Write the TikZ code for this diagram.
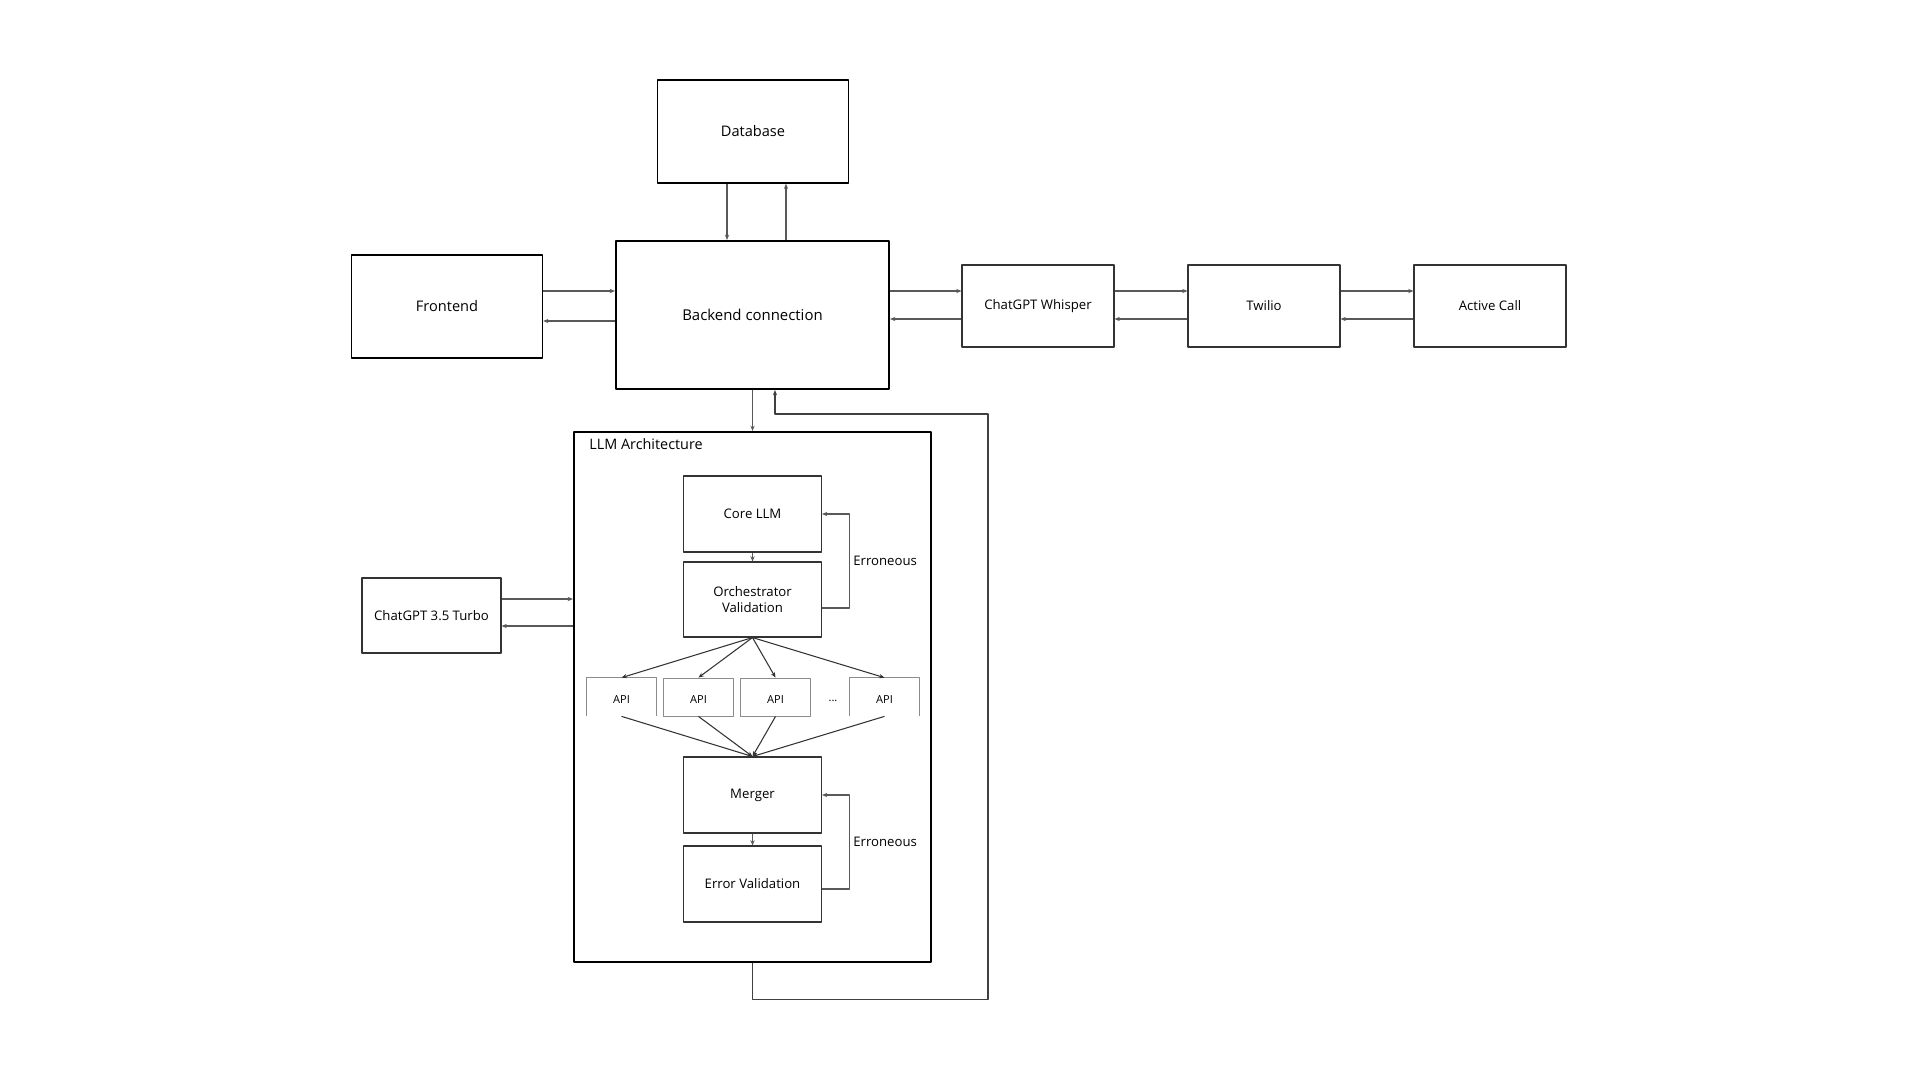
\documentclass[tikz,border=0pt]{standalone}
\usepackage{fontspec}
\setmainfont{Open Sans}
\usetikzlibrary{arrows.meta}

\def\u{0.02cm} % one pixel of the 1920x1080 sheet

\begin{document}
\begin{tikzpicture}[x=\u, y=-\u, >={Stealth[length=3pt,width=2.4pt]}, line join=round,
		box/.style={draw=black!80, line width=0.6pt, fill=white, align=center, inner sep=0pt, font=\fontsize{7.5}{9.5}\selectfont},
		bigbox/.style={box, draw=black, line width=1.2pt, font=\fontsize{8.5}{10}\selectfont},
		apibox/.style={inner sep=0pt, minimum width=70*\u, minimum height=38*\u, text height=7.6pt, text depth=0pt, font=\fontsize{6.3}{8}\selectfont},
		conn/.style={->, draw=black!65, line width=0.6pt},
		lbl/.style={font=\fontsize{7.5}{9}\selectfont, anchor=west, inner sep=0pt}]
	\useasboundingbox (0,0) rectangle (1920,1080);
	% top row
	\node[box, draw=black, line width=0.8pt, font=\fontsize{8.3}{10}\selectfont, minimum width=191*\u, minimum height=103*\u] (db) at (753,131.5) {Database};
	\node[bigbox, minimum width=273*\u, minimum height=148*\u] (be) at (752.5,315) {Backend connection};
	\node[box, draw=black, line width=0.8pt, font=\fontsize{8.3}{10}\selectfont, minimum width=191*\u, minimum height=103*\u] (fe) at (447,306.5) {Frontend};
	\node[box, minimum width=152*\u, minimum height=82*\u] (wh) at (1038,306) {ChatGPT Whisper};
	\node[box, minimum width=152*\u, minimum height=82*\u] (tw) at (1264,306) {Twilio};
	\node[box, minimum width=152*\u, minimum height=82*\u] (ac) at (1490,306) {Active Call};
	% LLM part
	\node[bigbox, minimum width=357*\u, minimum height=530*\u] (llm) at (752.5,697) {};
	\node[lbl, font=\fontsize{8.2}{10}\selectfont] (llmt) at (589,444) {LLM Architecture};
	\node[box, minimum width=139*\u, minimum height=75*\u] (gpt) at (431.5,615.5) {ChatGPT 3.5 Turbo};
	\node[box, minimum width=138*\u, minimum height=76*\u] (core) at (752.5,514) {Core LLM};
	\node[box, minimum width=138*\u, minimum height=75*\u] (orch) at (752.5,599.5) {Orchestrator\\Validation};
	\node[apibox] (api1) at (621.5,697) {API};
	\node[apibox, draw=black!45, line width=0.5pt] (api2) at (698.5,697) {API};
	\node[apibox, draw=black!45, line width=0.5pt] (api3) at (775.5,697) {API};
	\node[apibox] (api4) at (884.5,697) {API};
	\node[font=\fontsize{6.3}{8}\selectfont, inner sep=0pt] (dots) at (833,701) {...};
	\draw[black!45, line width=0.5pt] (api1.south west) |- (api1.north east) -- (api1.south east);
	\draw[black!45, line width=0.5pt] (api4.south west) |- (api4.north east) -- (api4.south east);
	\node[box, minimum width=138*\u, minimum height=76*\u] (mrg) at (752.5,795) {Merger};
	\node[box, minimum width=138*\u, minimum height=76*\u] (errv) at (752.5,884) {Error Validation};
	\node[lbl] (err1) at (853,561) {Erroneous};
	\node[lbl] (err2) at (853,842) {Erroneous};
	% connectors
	\draw[conn] (db.south -| 727,0) -- (be.north -| 727,0);
	\draw[conn] (be.north -| 786,0) -- (db.south -| 786,0);
	\draw[conn] (fe.east |- 0,291) -- (be.west |- 0,291);
	\draw[conn] (be.west |- 0,321) -- (fe.east |- 0,321);
	\draw[conn] (be.east |- 0,291) -- (wh.west |- 0,291);
	\draw[conn] (wh.west |- 0,319) -- (be.east |- 0,319);
	\draw[conn] (wh.east |- 0,291) -- (tw.west |- 0,291);
	\draw[conn] (tw.west |- 0,319) -- (wh.east |- 0,319);
	\draw[conn] (tw.east |- 0,291) -- (ac.west |- 0,291);
	\draw[conn] (ac.west |- 0,319) -- (tw.east |- 0,319);
	\draw[conn] (be.south) -- (llm.north);
	\draw[conn] (gpt.east |- 0,599) -- (llm.west |- 0,599);
	\draw[conn] (llm.west |- 0,626) -- (gpt.east |- 0,626);
	\draw[conn] (core.south) -- (orch.north);
	\draw[conn] (orch.east |- 0,608) -- ++(27,0) |- (core.east);
	\foreach \a in {api1,api2,api3,api4} {
		\draw[conn, draw=black!80] (orch.south) -- (\a.north);
		\draw[conn, draw=black!80] (\a.south) -- (mrg.north);
	}
	\draw[conn] (mrg.south) -- (errv.north);
	\draw[conn] (errv.east |- 0,889) -- ++(27,0) |- (mrg.east);
	\draw[conn, draw=black!75] (llm.south) -- ++(0,36) -| (988,414) -| ([xshift=0.45cm]be.south);
\end{tikzpicture}
\end{document}
